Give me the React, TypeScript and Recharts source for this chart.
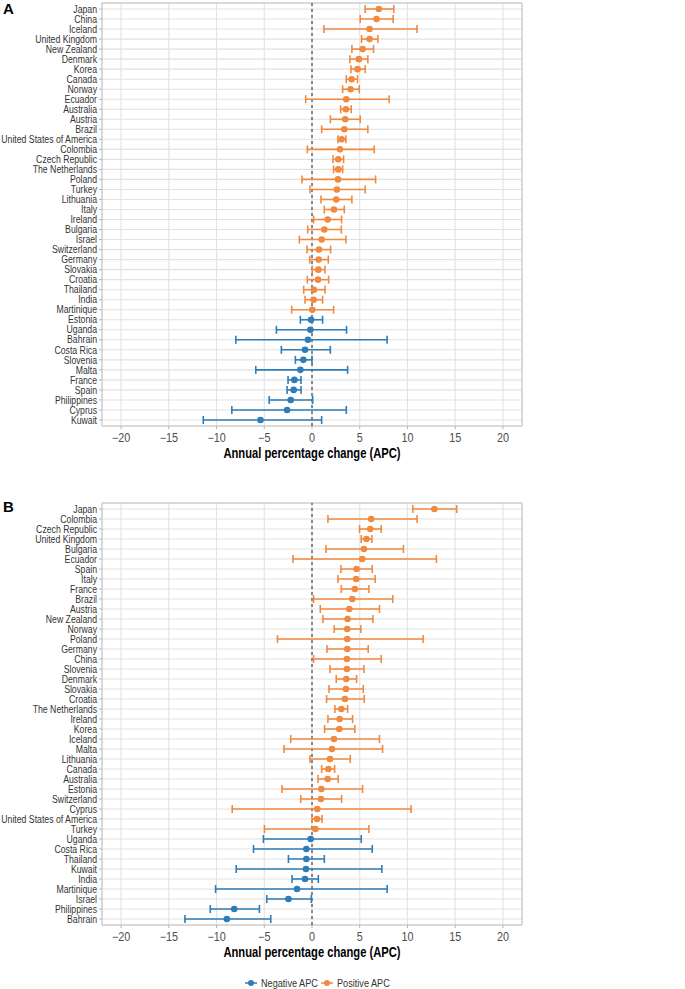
import React from "react";
import {
  ScatterChart,
  Scatter,
  XAxis,
  YAxis,
  CartesianGrid,
  ErrorBar,
  ReferenceLine,
  ReferenceArea,
  Legend,
} from "recharts";

// Panel A
const countriesA = [
  "Japan", "China", "Iceland", "United Kingdom", "New Zealand", "Denmark", "Korea",
  "Canada", "Norway", "Ecuador", "Australia", "Austria", "Brazil",
  "United States of America", "Colombia", "Czech Republic", "The Netherlands",
  "Poland", "Turkey", "Lithuania", "Italy", "Ireland", "Bulgaria", "Israel",
  "Switzerland", "Germany", "Slovakia", "Croatia", "Thailand", "India", "Martinique",
  "Estonia", "Uganda", "Bahrain", "Costa Rica", "Slovenia", "Malta", "France",
  "Spain", "Philippines", "Cyprus", "Kuwait",
];
const apcA = [
  7.0, 6.76, 6.03, 6.03, 5.3, 4.91, 4.77, 4.15, 4.04, 3.59, 3.55, 3.48, 3.38, 3.1,
  2.93, 2.75, 2.75, 2.72, 2.61, 2.54, 2.3, 1.64, 1.29, 1.01, 0.73, 0.7, 0.66, 0.63,
  0.21, 0.17, 0.03, -0.1, -0.17, -0.42, -0.73, -0.91, -1.22, -1.85, -1.92, -2.23,
  -2.61, -5.4,
];
const lowA = [
  5.57, 5.05, 1.25, 5.19, 4.18, 3.97, 4.08, 3.59, 3.21, -0.66, 3.0, 1.92, 1.01, 2.72,
  -0.49, 2.2, 2.26, -1.05, -0.21, 0.94, 1.29, 0.17, -0.45, -1.32, -0.52, -0.24, 0.03,
  -0.49, -0.87, -0.73, -2.13, -1.22, -3.73, -7.98, -3.21, -1.74, -5.89, -2.51, -2.61,
  -4.49, -8.4, -11.39,
];
const highA = [
  8.57, 8.5, 11.0, 6.9, 6.45, 5.85, 5.57, 4.77, 4.95, 8.08, 4.11, 5.05, 5.85, 3.55,
  6.52, 3.31, 3.21, 6.66, 5.57, 4.18, 3.38, 3.1, 3.07, 3.55, 1.95, 1.71, 1.36, 1.74,
  1.36, 1.11, 2.26, 1.11, 3.62, 7.87, 1.92, 0.0, 3.73, -1.15, -1.15, 0.07, 3.59, 1.01,
];

// Panel B
const countriesB = [
  "Japan", "Colombia", "Czech Republic", "United Kingdom", "Bulgaria", "Ecuador",
  "Spain", "Italy", "France", "Brazil", "Austria", "New Zealand", "Norway", "Poland",
  "Germany", "China", "Slovenia", "Denmark", "Slovakia", "Croatia", "The Netherlands",
  "Ireland", "Korea", "Iceland", "Malta", "Lithuania", "Canada", "Australia",
  "Estonia", "Switzerland", "Cyprus", "United States of America", "Turkey", "Uganda",
  "Costa Rica", "Thailand", "Kuwait", "India", "Martinique", "Israel", "Philippines",
  "Bahrain",
];
const apcB = [
  12.82, 6.2, 6.1, 5.71, 5.44, 5.26, 4.67, 4.63, 4.49, 4.22, 3.9, 3.73, 3.69, 3.69,
  3.69, 3.66, 3.66, 3.59, 3.55, 3.45, 3.07, 2.89, 2.86, 2.3, 2.09, 1.88, 1.71, 1.64,
  0.98, 0.94, 0.56, 0.52, 0.35, -0.14, -0.59, -0.59, -0.63, -0.73, -1.57, -2.47,
  -8.15, -8.92,
];
const lowB = [
  10.56, 1.67, 4.98, 5.16, 1.46, -1.99, 3.03, 2.72, 3.07, 0.17, 0.87, 1.15, 2.33,
  -3.62, 1.57, 0.17, 1.88, 2.54, 1.78, 1.53, 2.4, 1.67, 1.32, -2.23, -2.93, -0.21,
  1.01, 0.63, -3.14, -1.18, -8.36, 0.0, -4.98, -5.09, -6.13, -2.47, -7.94, -2.09,
  -10.1, -4.74, -10.66, -13.31,
];
const highB = [
  15.16, 11.01, 7.25, 6.27, 9.58, 13.03, 6.31, 6.62, 5.96, 8.47, 7.07, 6.38, 5.12,
  11.64, 5.89, 7.25, 5.44, 4.67, 5.37, 5.47, 3.73, 4.25, 4.49, 7.07, 7.39, 4.01, 2.37,
  2.75, 5.3, 3.1, 10.38, 1.05, 5.96, 5.16, 6.31, 1.29, 7.32, 0.66, 7.87, -0.07, -5.51,
  -4.32,
];

const xTicks = [-20, -15, -10, -5, 0, 5, 10, 15, 20];
const seriesNames = ["Negative APC", "Positive APC"];

const BLUE = "#2e7cb8";
const ORANGE = "#f08a40";
const FONT = "'Liberation Sans', Arial, sans-serif";
const SQUEEZE = 0.83; // reference text is set in a narrow face

const fmtX = (v: number) => (v < 0 ? `\u2212${Math.abs(v)}` : String(v));

function buildRows(countries: string[], apc: number[], low: number[], high: number[]) {
  return countries.map((country, idx) => ({
    idx,
    country,
    apc: apc[idx],
    err: [apc[idx] - low[idx], high[idx] - apc[idx]],
  }));
}

const dot = (color: string) => (p: any) => (
  <circle cx={p.cx} cy={p.cy} r={3.3} fill={color} />
);

const countryTick = (countries: string[]) => (p: any) => (
  <g transform={`translate(${p.x},${p.y})`}>
    <text
      transform={`scale(${SQUEEZE},1)`}
      textAnchor="end"
      dy="0.35em"
      fontFamily={FONT}
      fontSize={10.5}
      fill="#333"
    >
      {countries[p.payload.value]}
    </text>
  </g>
);

const XTick = (p: any) => (
  <g transform={`translate(${p.x},${p.y})`}>
    <text
      transform="scale(0.9,1)"
      textAnchor="middle"
      dy="0.71em"
      fontFamily={FONT}
      fontSize={12}
      fill="#4d4d4d"
    >
      {fmtX(p.payload.value)}
    </text>
  </g>
);

const AxisTitle = (props: any) => {
  const { x, y, width } = props.viewBox;
  return (
    <g transform={`translate(${x + width / 2},${y + 32})`}>
      <text
        transform="scale(0.8,1)"
        textAnchor="middle"
        fontFamily={FONT}
        fontWeight="bold"
        fontSize={14}
        fill="#000"
      >
        Annual percentage change (APC)
      </text>
    </g>
  );
};

const LegendContent = (props: any) => {
  const { payload } = props;
  return (
    <div
      style={{
        display: "flex",
        alignItems: "center",
        paddingLeft: 244,
        paddingTop: 8,
        fontFamily: FONT,
        fontSize: 11,
        color: "#333",
      }}
    >
      {(payload || []).map((e: any) => (
        <span
          key={e.value}
          style={{
            display: "inline-flex",
            alignItems: "center",
            width: 76,
            flexShrink: 0,
            overflow: "visible",
          }}
        >
          <svg width={14} height={10} style={{ flexShrink: 0 }}>
            <line x1={1} x2={13} y1={5} y2={5} stroke={e.color} strokeWidth={1.5} />
            <circle cx={7} cy={5} r={3} fill={e.color} />
          </svg>
          <span
            style={{
              marginLeft: 3,
              flexShrink: 0,
              display: "inline-block",
              whiteSpace: "nowrap",
              transform: `scaleX(${SQUEEZE})`,
              transformOrigin: "left center",
            }}
          >
            {e.value}
          </span>
        </span>
      ))}
    </div>
  );
};

function Panel({
  countries,
  apc,
  low,
  high,
  height,
  top,
  legend,
}: {
  countries: string[];
  apc: number[];
  low: number[];
  high: number[];
  height: number;
  top: number;
  legend?: boolean;
}) {
  const rows = buildRows(countries, apc, low, high);
  const neg = rows.filter((r) => r.apc < 0);
  const pos = rows.filter((r) => r.apc >= 0);
  const n = countries.length;
  const yTicks = countries.map((_, i) => i);
  return (
    <ScatterChart
      width={685}
      height={height}
      margin={{ top, right: 163, left: 0, bottom: 0 }}
    >
      <CartesianGrid stroke="#e2e2e2" strokeWidth={1.1} />
      <ReferenceArea
        x1={-22}
        x2={22}
        y1={-0.6}
        y2={n - 0.4}
        fill="none"
        stroke="#c4c4c4"
        strokeWidth={1}
        fillOpacity={0}
      />
      <XAxis
        type="number"
        dataKey="apc"
        domain={[-22, 22]}
        allowDataOverflow
        ticks={xTicks}
        height={44}
        tickSize={3}
        tickMargin={4}
        axisLine={false}
        tickLine={{ stroke: "#b3b3b3" }}
        tick={XTick}
        label={AxisTitle}
      />
      <YAxis
        type="number"
        dataKey="idx"
        domain={[-0.6, n - 0.4]}
        allowDataOverflow
        reversed
        ticks={yTicks}
        interval={0}
        width={102}
        tickSize={3}
        tickMargin={2}
        axisLine={false}
        tickLine={{ stroke: "#b3b3b3" }}
        tick={countryTick(countries)}
      />
      <ReferenceLine x={0} stroke="#222" strokeDasharray="3 3" strokeWidth={1} />
      <Scatter
        name={seriesNames[0]}
        data={neg}
        fill={BLUE}
        shape={dot(BLUE)}
        isAnimationActive={false}
      >
        <ErrorBar dataKey="err" direction="x" width={4} stroke={BLUE} strokeWidth={1.6} />
      </Scatter>
      <Scatter
        name={seriesNames[1]}
        data={pos}
        fill={ORANGE}
        shape={dot(ORANGE)}
        isAnimationActive={false}
      >
        <ErrorBar dataKey="err" direction="x" width={4} stroke={ORANGE} strokeWidth={1.6} />
      </Scatter>
      {legend && (
        <Legend verticalAlign="bottom" height={20} content={LegendContent} />
      )}
    </ScatterChart>
  );
}

const label: React.CSSProperties = {
  position: "absolute",
  left: 3,
  fontFamily: FONT,
  fontWeight: "bold",
  fontSize: 15,
  lineHeight: "15px",
};

export default function App() {
  return (
    <div
      style={{
        position: "absolute",
        left: 0,
        top: 0,
        width: 685,
        height: 989,
        background: "#fff",
        overflow: "hidden",
      }}
    >
      <div style={{ position: "absolute", left: 0, top: 0 }}>
        <Panel countries={countriesA} apc={apcA} low={lowA} high={highA} height={470} top={3} />
      </div>
      <div style={{ position: "absolute", left: 0, top: 490 }}>
        <Panel
          countries={countriesB}
          apc={apcB}
          low={lowB}
          high={highB}
          height={499}
          top={13}
          legend
        />
      </div>
      <div style={{ ...label, top: 1 }}>A</div>
      <div style={{ ...label, top: 499 }}>B</div>
    </div>
  );
}
